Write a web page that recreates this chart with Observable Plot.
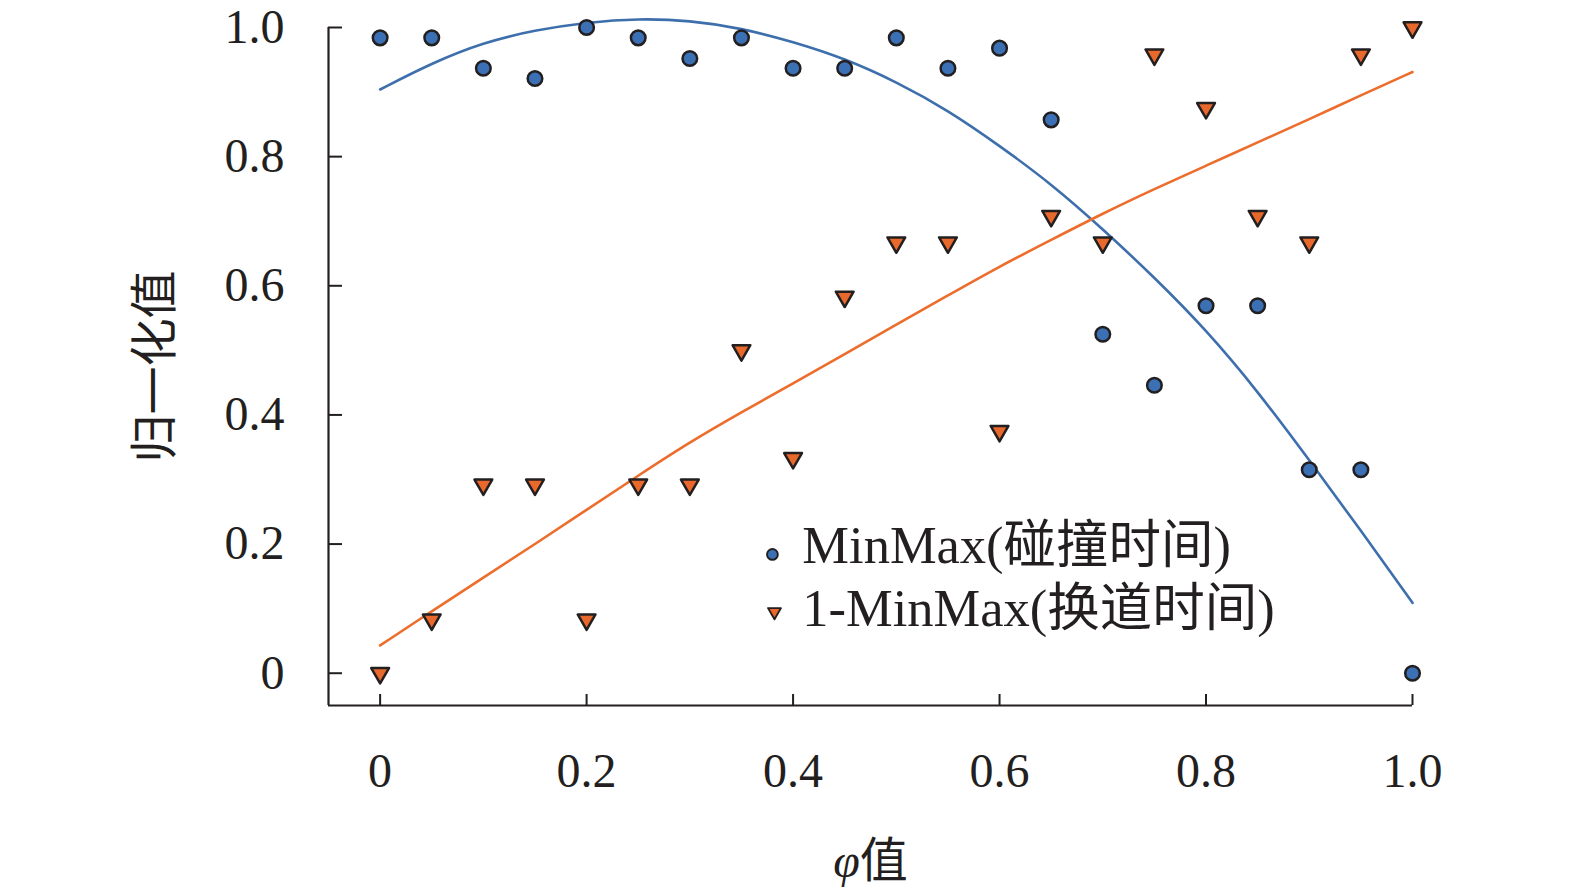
<!DOCTYPE html>
<html>
<head>
<meta charset="utf-8">
<script src="https://cdn.jsdelivr.net/npm/d3@7"></script>
<script src="https://cdn.jsdelivr.net/npm/@observablehq/plot@0.6"></script>
<style>
  html, body { margin: 0; padding: 0; background: #fff; overflow: hidden; width: 1575px; height: 889px; }
  #chart svg { display: block; max-width: none !important; width: 1575px; height: 889px; }
</style>
</head>
<body>
<div id="chart"></div>
<script>
// ---- data ----
const phi = [0, 0.05, 0.1, 0.15, 0.2, 0.25, 0.3, 0.35, 0.4, 0.45, 0.5, 0.55, 0.6, 0.65, 0.7, 0.75, 0.8, 0.85, 0.9, 0.95, 1.0];
const collisionTime = [0.984, 0.984, 0.937, 0.921, 1.0, 0.984, 0.952, 0.984, 0.937, 0.937, 0.984, 0.937, 0.968, 0.857, 0.525, 0.446, 0.569, 0.569, 0.315, 0.315, 0.0];
const laneChangeTime = [0.0, 0.083, 0.292, 0.292, 0.083, 0.292, 0.292, 0.5, 0.333, 0.583, 0.667, 0.667, 0.375, 0.708, 0.667, 0.958, 0.875, 0.708, 0.667, 0.958, 1.0];
const collisionFit = [0.904, 0.945, 0.977, 0.996, 1.008, 1.014, 1.011, 0.999, 0.978, 0.952, 0.916, 0.872, 0.817, 0.758, 0.688, 0.613, 0.532, 0.437, 0.330, 0.221, 0.109];
const laneChangeFit = [0.043, 0.096, 0.148, 0.200, 0.253, 0.306, 0.358, 0.404, 0.449, 0.494, 0.540, 0.585, 0.630, 0.671, 0.712, 0.750, 0.786, 0.822, 0.858, 0.895, 0.931];
const seriesNames = ["MinMax(碰撞时间)", "1-MinMax(换道时间)"];
const xTicks = [0, 0.2, 0.4, 0.6, 0.8, 1.0];
const xTickLabels = ["0", "0.2", "0.4", "0.6", "0.8", "1.0"];
const yTicks = [0, 0.2, 0.4, 0.6, 0.8, 1.0];
const yTickLabels = ["0", "0.2", "0.4", "0.6", "0.8", "1.0"];
const xLabel = "φ值";
const yLabel = "归一化值";

// ---- table built from the arrays ----
const rows = phi.map((p, i) => ({
  phi: p,
  collision: collisionTime[i],
  lane: laneChangeTime[i],
  collisionFit: collisionFit[i],
  laneFit: laneChangeFit[i]
}));

// ---- layout & style ----
const W = 1575, H = 889;
const mL = 328, mR = 163, mT = 27, mB = 184;
const plotW = W - mL - mR, plotH = H - mT - mB;
const ink = "#231f20";
const blueFill = "#3b70b4", blueLine = "#3e6fad";
const orangeFill = "#e8692b", orangeLine = "#ec6d2c";
const fontFamily = '"Liberation Serif", "Times New Roman", "Noto Sans CJK SC", serif';

const legendSymX = [0.380, 0.382], legendTextX = 0.409;
const legendSymY = [0.184, 0.095];
const legendTextY = [0.197, 0.099];

const chart = Plot.plot({
  width: W, height: H,
  marginLeft: mL, marginRight: mR, marginTop: mT, marginBottom: mB,
  style: { fontFamily, fontSize: "48px", color: ink, background: "#fff" },
  x: { domain: [-0.05, 1.0] },
  y: { domain: [-0.05, 1.0] },
  marks: [
    Plot.axisX({
      ticks: xTicks, tickFormat: d => xTickLabels[xTicks.indexOf(d)],
      tickSize: 0, tickPadding: 47, fontSize: 48,
      label: xLabel, labelAnchor: "center", labelOffset: 171, labelArrow: "none"
    }),
    Plot.axisY({
      ticks: yTicks, tickFormat: d => yTickLabels[yTicks.indexOf(d)],
      tickSize: 0, tickPadding: 44, fontSize: 48,
      label: yLabel, labelAnchor: "center", labelOffset: 192, labelArrow: "none"
    }),
    // axis lines
    Plot.ruleX([-0.05], { stroke: ink, strokeWidth: 2.2 }),
    Plot.ruleY([-0.05], { stroke: ink, strokeWidth: 2.2 }),
    // inward tick marks
    Plot.tickX(xTicks, { x: d => d, stroke: ink, strokeWidth: 2, insetTop: plotH - 11 }),
    Plot.tickY(yTicks, { y: d => d, stroke: ink, strokeWidth: 2, insetRight: plotW - 14 }),
    // fitted curves
    Plot.line(rows, { x: "phi", y: "collisionFit", stroke: blueLine, strokeWidth: 2.6, curve: "basis" }),
    Plot.line(rows, { x: "phi", y: "laneFit", stroke: orangeLine, strokeWidth: 2.6, curve: "basis" }),
    // points
    Plot.dot(rows, { x: "phi", y: "collision", r: 7.3, fill: blueFill, stroke: ink, strokeWidth: 2.5 }),
    Plot.dot(rows, { x: "phi", y: "lane", symbol: "triangle", rotate: 180, r: 6.6, fill: orangeFill, stroke: ink, strokeWidth: 2.5, strokeLinejoin: "round" }),
    // legend
    Plot.dot([seriesNames[0]], { x: () => legendSymX[0], y: () => legendSymY[0], r: 5.4, fill: blueFill, stroke: ink, strokeWidth: 1.9 }),
    Plot.dot([seriesNames[1]], { x: () => legendSymX[1], y: () => legendSymY[1], symbol: "triangle", rotate: 180, r: 4.8, fill: orangeFill, stroke: ink, strokeWidth: 1.9, strokeLinejoin: "round" }),
    Plot.text(seriesNames, { x: () => legendTextX, y: (d, i) => legendTextY[i], text: d => d, textAnchor: "start", fontSize: 52.5, fill: ink })
  ]
});

document.getElementById("chart").appendChild(chart);

// italic φ in the x label
chart.querySelectorAll("text").forEach(t => {
  if (t.textContent === xLabel) {
    t.innerHTML = '<tspan font-style="italic">φ</tspan><tspan>值</tspan>';
  }
});
</script>
</body>
</html>
